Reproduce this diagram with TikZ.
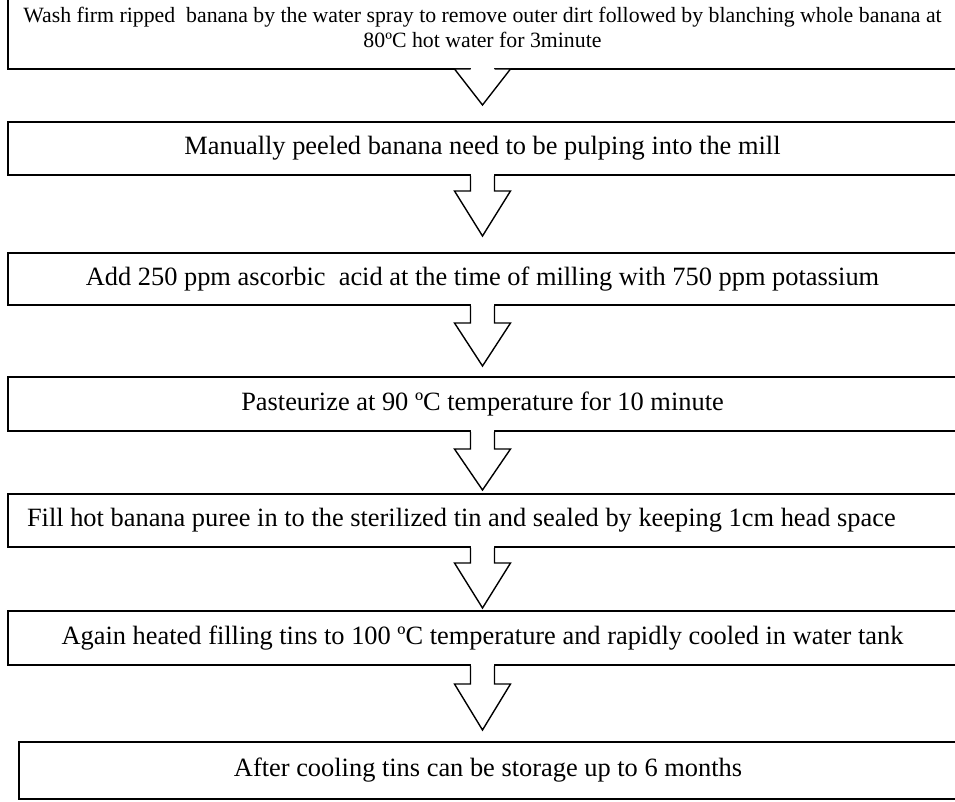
\documentclass[tikz,border=0pt]{standalone}
\usepackage{fontspec}
\setmainfont{Liberation Serif}
\usetikzlibrary{positioning}

% block arrow from one step down towards the next one
\newcommand\stepflow[4]{%
  \coordinate (sh) at ([yshift=-#3]#1.south);
  \path (#1.south |- #2.north) coordinate (tp);
  \filldraw[flowarrow] ([xshift=-6pt]#1.south) -- ([xshift=-6pt]sh) -- ([xshift=-14pt]sh)
    -- ([yshift=#4]tp) -- ([xshift=14pt]sh) -- ([xshift=6pt]sh) -- ([xshift=6pt]#1.south);
  \fill[white] ([xshift=-5.6pt,yshift=0.6pt]#1.south) rectangle ([xshift=5.6pt,yshift=-0.3pt]#1.south);
}

\begin{document}
\begin{tikzpicture}[x=0.5pt, y=-0.5pt,
  stepbox/.style={draw,line width=0.7pt,fill=white,inner sep=0pt,outer sep=0pt,minimum width=474.5pt,
    align=center,font=\fontsize{13.2}{15}\selectfont},
  flowarrow/.style={draw,line width=0.7pt,fill=white,line join=miter}]
\useasboundingbox (0,0) rectangle (955,802);
\clip (0,0) rectangle (955,802);

\node[stepbox,minimum height=41.5pt,font=\fontsize{10.9}{12.5}\selectfont] (b1) at (482.5,27.5)
  {Wash firm ripped\ \ banana by the water spray to remove outer dirt followed by blanching whole banana at\\80ºC hot water for 3minute};
\node[stepbox,minimum height=26.5pt,below=26.5pt of b1] (b2)
  {Manually peeled banana need to be pulping into the mill};
\node[stepbox,minimum height=26pt,below=39pt of b2] (b3)
  {Add 250 ppm ascorbic\ \ acid at the time of milling with 750 ppm potassium};
\node[stepbox,minimum height=27pt,below=36pt of b3] (b4)
  {Pasteurize at 90 ºC temperature for 10 minute};
\node[stepbox,minimum height=26.5pt,text width=455.5pt,align=flush left,below=31.5pt of b4] (b5)
  {Fill hot banana puree in to the sterilized tin and sealed by keeping 1cm head space};
\node[stepbox,minimum height=27pt,below=32pt of b5] (b6)
  {Again heated filling tins to 100 ºC temperature and rapidly cooled in water tank};
\node[stepbox,minimum height=28.5pt,minimum width=469pt,below=38.5pt of b6,xshift=2.75pt] (b7)
  {After cooling tins can be storage up to 6 months};

\stepflow{b1}{b2}{0pt}{8.5pt}
\stepflow{b2}{b3}{8pt}{8.5pt}
\stepflow{b3}{b4}{9pt}{5.5pt}
\stepflow{b4}{b5}{9pt}{2pt}
\stepflow{b5}{b6}{8pt}{1.5pt}
\stepflow{b6}{b7}{9.5pt}{6pt}
\end{tikzpicture}
\end{document}
